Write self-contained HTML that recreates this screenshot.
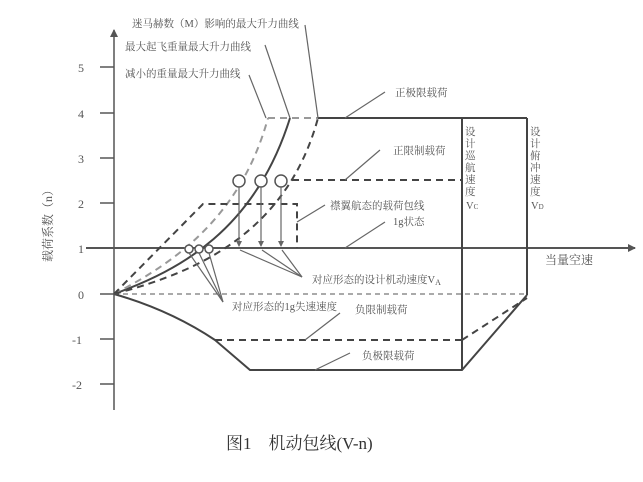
<!DOCTYPE html>
<html><head><meta charset="utf-8"><style>
html,body{margin:0;padding:0;background:#fff;}
svg{display:block;}
text{font-family:"Liberation Serif","Noto Serif CJK SC",serif;fill:#555;}
</style></head><body>
<svg width="643" height="482" viewBox="0 0 643 482" xmlns="http://www.w3.org/2000/svg">
<defs>
<marker id="ah" markerWidth="8" markerHeight="8" refX="7" refY="4" orient="auto" markerUnits="userSpaceOnUse"><path d="M0,0 L8,4 L0,8 Z" fill="#555"/></marker>
<marker id="ar" markerWidth="6" markerHeight="6" refX="5" refY="3" orient="auto" markerUnits="userSpaceOnUse"><path d="M0,0 L6,3 L0,6 Z" fill="#666"/></marker>
</defs>
<g stroke="#555" stroke-width="1.5" fill="none">
<!-- y axis -->
<line x1="114" y1="410" x2="114" y2="30" marker-end="url(#ah)"/>
<!-- ticks -->
<line x1="100" y1="67" x2="114" y2="67"/><line x1="100" y1="113" x2="114" y2="113"/>
<line x1="100" y1="158" x2="114" y2="158"/><line x1="100" y1="203" x2="114" y2="203"/>
<line x1="100" y1="248" x2="114" y2="248"/><line x1="100" y1="294" x2="114" y2="294"/>
<line x1="100" y1="339" x2="114" y2="339"/><line x1="100" y1="384" x2="114" y2="384"/>
<!-- x axis 1g -->
<line x1="86" y1="248" x2="635" y2="248" stroke-width="2" marker-end="url(#ah)"/>
</g>
<g font-size="12">
<text x="78" y="72">5</text><text x="78" y="118">4</text><text x="78" y="163">3</text>
<text x="78" y="208">2</text><text x="78" y="253">1</text><text x="78" y="299">0</text>
<text x="72" y="344">-1</text><text x="72" y="389">-2</text>
</g>
<text x="0" y="0" font-size="12" transform="translate(52,262) rotate(-90)">载荷系数（n）</text>
<text x="545" y="264" font-size="12">当量空速</text>

<!-- envelope -->
<g stroke="#444" stroke-width="2" fill="none">
<path d="M114,294 C180,270 255,230 290,118"/>
<line x1="318" y1="118" x2="527" y2="118"/>
<line x1="462" y1="118" x2="462" y2="370"/>
<line x1="527" y1="118" x2="527" y2="295"/>
<path d="M114,294 Q170,310 215,340 L250,370 L462,370 L527,295"/>
</g>
<g stroke="#999" stroke-width="2" fill="none" stroke-dasharray="7,5">
<path d="M114,294 C170,265 240,220 268,118"/>
<line x1="268" y1="118" x2="318" y2="118"/>
</g>
<g stroke="#444" stroke-width="2" fill="none" stroke-dasharray="7,5">
<path d="M114,294 C185,275 285,240 318,118"/>
<line x1="280" y1="180" x2="462" y2="180"/>
<path d="M114,294 L203,204 L297,204 L297,248"/>
<line x1="215" y1="340" x2="462" y2="340"/>
<line x1="462" y1="340" x2="527" y2="298"/>
</g>
<line x1="114" y1="294" x2="527" y2="294" stroke="#555" stroke-width="1" stroke-dasharray="5,4"/>

<!-- circles & arrows -->
<g stroke="#555" stroke-width="1.5" fill="#fff">
<circle cx="239" cy="181" r="6"/><circle cx="261" cy="181" r="6"/><circle cx="281" cy="181" r="6"/>
<circle cx="189" cy="249" r="4"/><circle cx="199" cy="249" r="4"/><circle cx="209" cy="249" r="4"/>
</g>
<g stroke="#666" stroke-width="1.2" fill="none">
<line x1="239" y1="187" x2="239" y2="246" marker-end="url(#ar)"/>
<line x1="261" y1="187" x2="261" y2="246" marker-end="url(#ar)"/>
<line x1="281" y1="187" x2="281" y2="246" marker-end="url(#ar)"/>
<!-- leader lines -->
<line x1="240" y1="250" x2="302" y2="277"/><line x1="262" y1="250" x2="302" y2="277"/><line x1="282" y1="250" x2="302" y2="277"/>
<line x1="189" y1="253" x2="223" y2="302"/><line x1="199" y1="253" x2="223" y2="302"/><line x1="209" y1="253" x2="223" y2="302"/>
<line x1="266" y1="118" x2="249" y2="75"/>
<line x1="290" y1="118" x2="265" y2="45"/>
<line x1="318" y1="118" x2="305" y2="25"/>
<line x1="345" y1="118" x2="385" y2="92"/>
<line x1="345" y1="180" x2="380" y2="150"/>
<line x1="297" y1="222" x2="325" y2="205"/>
<line x1="345" y1="248" x2="385" y2="222"/>
<line x1="305" y1="340" x2="340" y2="313"/>
<line x1="315" y1="370" x2="350" y2="353"/>
</g>
<g font-size="10.5">
<text x="132" y="27">迷马赫数（M）影响的最大升力曲线</text>
<text x="125" y="50">最大起飞重量最大升力曲线</text>
<text x="125" y="77">减小的重量最大升力曲线</text>
<text x="395" y="96">正极限载荷</text>
<text x="393" y="154">正限制载荷</text>
<text x="330" y="209">襟翼航态的载荷包线</text>
<text x="393" y="225">1g状态</text>
<text x="312" y="283">对应形态的设计机动速度V<tspan font-size="8" dy="2">A</tspan></text>
<text x="232" y="310">对应形态的1g失速速度</text>
<text x="355" y="313">负限制载荷</text>
<text x="362" y="359">负极限载荷</text>
</g>
<g font-size="10.5">
<text x="465" y="135">设</text><text x="465" y="147">计</text><text x="465" y="159">巡</text><text x="465" y="171">航</text><text x="465" y="183">速</text><text x="465" y="195">度</text><text x="466" y="209">V<tspan font-size="7">C</tspan></text>
<text x="530" y="135">设</text><text x="530" y="147">计</text><text x="530" y="159">俯</text><text x="530" y="171">冲</text><text x="530" y="183">速</text><text x="530" y="195">度</text><text x="531" y="209">V<tspan font-size="7">D</tspan></text>
</g>
<text x="226" y="449" font-size="17" fill="#333" style="fill:#333">图1　机动包线(V-n)</text>
</svg>
</body></html>
